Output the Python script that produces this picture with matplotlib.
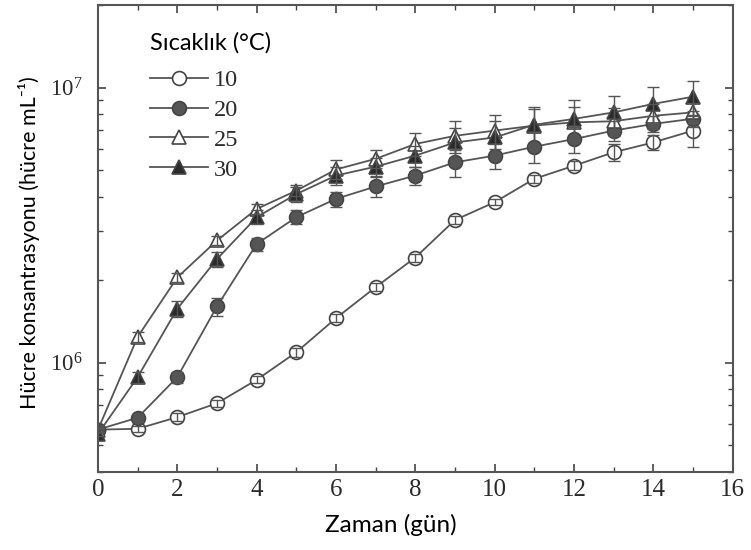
import numpy as np
import matplotlib
matplotlib.use('Agg')
import matplotlib.pyplot as plt
from matplotlib import ticker

plt.rcParams['font.family'] = 'Liberation Serif'
plt.rcParams['mathtext.fontset'] = 'custom'
plt.rcParams['mathtext.rm'] = 'Liberation Serif'

# days
days = np.arange(16)

# cell concentration (cells/mL) per temperature
c10 = [5.7e5, 5.74e5, 6.33e5, 7.11e5, 8.65e5, 1.09e6, 1.45e6, 1.88e6,
       2.41e6, 3.30e6, 3.83e6, 4.66e6, 5.20e6, 5.82e6, 6.32e6, 6.98e6]
c20 = [5.7e5, 6.30e5, 8.85e5, 1.60e6, 2.70e6, 3.38e6, 3.94e6, 4.37e6,
       4.79e6, 5.35e6, 5.66e6, 6.10e6, 6.50e6, 6.98e6, 7.38e6, 7.71e6]
c25 = [5.7e5, 1.24e6, 2.04e6, 2.78e6, 3.62e6, 4.22e6, 5.04e6, 5.51e6,
       6.24e6, 6.68e6, 6.98e6, 7.28e6, 7.48e6, 7.55e6, 7.90e6, 8.13e6]
c30 = [5.5e5, 8.85e5, 1.57e6, 2.38e6, 3.38e6, 4.10e6, 4.79e6, 5.16e6,
       5.66e6, 6.32e6, 6.59e6, 7.33e6, 7.70e6, 8.13e6, 8.73e6, 9.27e6]

# standard deviations
e10 = [0.01e6, 0.015e6, 0.02e6, 0.02e6, 0.025e6, 0.04e6, 0.05e6, 0.06e6,
       0.08e6, 0.1e6, 0.1e6, 0.15e6, 0.2e6, 0.4e6, 0.4e6, 0.9e6]
e20 = [0.01e6, 0.02e6, 0.04e6, 0.12e6, 0.15e6, 0.2e6, 0.25e6, 0.38e6,
       0.35e6, 0.6e6, 0.6e6, 0.8e6, 0.7e6, 0.6e6, 0.5e6, 0.5e6]
e25 = [0.01e6, 0.05e6, 0.08e6, 0.1e6, 0.15e6, 0.2e6, 0.4e6, 0.4e6,
       0.6e6, 0.9e6, 1.0e6, 1.1e6, 1.0e6, 0.9e6, 0.8e6, 0.7e6]
e30 = [0.01e6, 0.04e6, 0.1e6, 0.15e6, 0.2e6, 0.25e6, 0.35e6, 0.4e6,
       0.5e6, 0.8e6, 1.0e6, 1.2e6, 1.3e6, 1.2e6, 1.3e6, 1.3e6]

labels = ['10', '20', '25', '30']
markers = ['o', 'o', '^', '^']
faces = ['white', '#555555', 'white', '#2a2a2a']

fig = plt.figure(figsize=(7.51, 5.50), dpi=100)
ax = fig.add_axes([0.1305, 0.142, 0.845, 0.849])

line_col = '#555555'
handles = []
for y, err, lab, m, fc in zip([c10, c20, c25, c30], [e10, e20, e25, e30],
                              labels, markers, faces):
    h, = ax.plot(days, y, color=line_col, lw=1.3, marker=m, markersize=10,
                 markerfacecolor=fc, markeredgecolor='#444444',
                 markeredgewidth=1.2, label=lab, zorder=2)
    handles.append(h)
    # error bars drawn on top of the markers
    ax.errorbar(days, y, yerr=err, fmt='none', ecolor=line_col,
                elinewidth=1.0, capsize=4.5, capthick=1.0, zorder=3)

ax.set_yscale('log')
ax.set_xlim(0, 16)
ax.set_ylim(4e5, 2e7)
ax.xaxis.set_major_locator(ticker.MultipleLocator(2))
ax.xaxis.set_minor_locator(ticker.MultipleLocator(1))
ax.yaxis.set_minor_formatter(ticker.NullFormatter())

ax.tick_params(which='both', direction='in', top=True, right=True,
               colors='#444444', labelcolor='#2b2b2b')
ax.tick_params(which='major', length=6, width=1.2)
ax.tick_params(which='minor', length=3.5, width=1.0)
ax.tick_params(axis='x', pad=5, labelsize=18)
ax.tick_params(axis='y', pad=11, labelsize=16.5)
for s in ax.spines.values():
    s.set_color('#555555')
    s.set_linewidth(1.5)

ax.set_xlabel('Zaman (gün)', family=['Lato', 'DejaVu Sans'], fontsize=17.5)
ax.set_ylabel('Hücre konsantrasyonu (hücre mL⁻¹)',
              family=['Lato', 'DejaVu Sans'], fontsize=15.5)
ax.xaxis.set_label_coords(0.461, -0.09)
ax.yaxis.set_label_coords(-0.092, 0.49)

leg = ax.legend(handles, labels, title='Sıcaklık (°C)', loc='upper left',
                bbox_to_anchor=(0.062, 0.967), frameon=False, borderpad=0,
                fontsize=17.5, handlelength=2.4, handletextpad=0.25,
                labelspacing=0.32,
                title_fontproperties={'family': 'Lato', 'size': 17})
leg._legend_box.align = 'left'
leg._legend_box.sep = 11
for t in leg.get_texts():
    t.set_color('#2b2b2b')

fig.savefig('out.png', dpi=100)
